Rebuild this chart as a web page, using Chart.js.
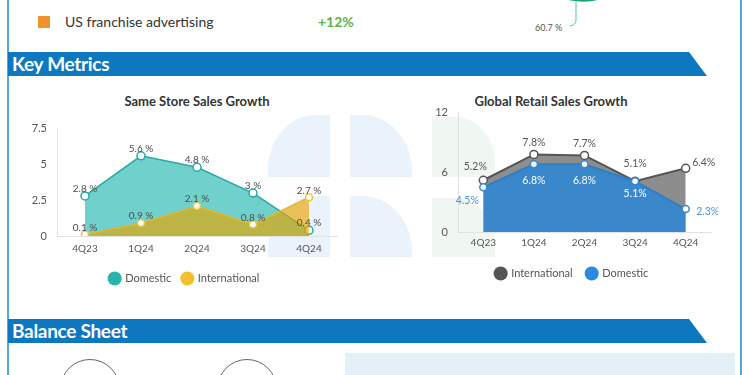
<!DOCTYPE html>
<html>
<head>
<meta charset="utf-8">
<script src="https://cdn.jsdelivr.net/npm/chart.js@4.4.0/dist/chart.umd.min.js"></script>
<style>
  html, body { margin: 0; padding: 0; }
  body { width: 750px; height: 375px; overflow: hidden; position: relative; background: #fff; font-family: Lato, sans-serif; }
  .abs { position: absolute; }
  .frame { position: absolute; top: 0; bottom: 0; width: 2px; background: #5aa6da; }
  .banner { position: absolute; left: 8px; width: 699px; height: 24px; background: #0d78c0;
    clip-path: polygon(0 0, 681px 0, 699px 100%, 0 100%); color: #fff; font-weight: 700;
    font-size: 19px; line-height: 24px; padding-left: 4px; box-sizing: border-box; letter-spacing: -0.3px; }
  .leaf { position: absolute; background: #eaf2fb; }
  .gleaf { position: absolute; background: #f0f7f2; }
  .title { position: absolute; width: 220px; text-align: center; font-weight: 700; font-size: 13px; color: #333; line-height: 16px; }
  .box { position: absolute; }
</style>
</head>
<body>
<div class="frame" style="left:7px"></div>
<div class="frame" style="left:740px"></div>

<div class="abs" style="left:38px;top:16px;width:12px;height:12px;background:#f0922e"></div>
<div class="abs" style="left:65px;top:13px;font-size:14px;color:#333;line-height:18px">US franchise advertising</div>
<div class="abs" style="left:318px;top:13px;font-size:14px;color:#5cb346;font-weight:700;line-height:18px">+12%</div>
<svg class="abs" style="left:540px;top:0" width="80" height="40">
  <path d="M28 0 L58 0 Q44 3.5 28 0 Z" fill="#1aa37c"/>
  <path d="M36 2 L36 20 Q36 25 30 26" stroke="#5cc0a0" stroke-width="1" fill="none"/>
</svg>
<div class="abs" style="left:535px;top:22px;font-size:9px;color:#555;line-height:12px">60.7 %</div>

<div class="banner" style="top:52px">Key Metrics</div>
<div class="banner" style="top:319px">Balance Sheet</div>

<!-- faint watermark logo -->
<div class="leaf" style="left:268px;top:115px;width:62px;height:62px;border-radius:48px 0 0 0 / 54px 0 0 0"></div>
<div class="leaf" style="left:350px;top:115px;width:62px;height:62px;border-radius:0 50px 0 0 / 0 56px 0 0"></div>
<div class="leaf" style="left:268px;top:196px;width:62px;height:61px;border-radius:48px 0 0 0 / 54px 0 0 0"></div>
<div class="leaf" style="left:350px;top:196px;width:62px;height:61px;border-radius:0 50px 0 0 / 0 56px 0 0"></div>
<div class="gleaf" style="left:432px;top:117px;width:63px;height:60px;border-radius:0 40px 0 0 / 0 45px 0 0"></div>
<div class="gleaf" style="left:432px;top:198px;width:63px;height:59px;border-radius:0 40px 0 0 / 0 45px 0 0"></div>

<div class="title" style="left:87px;top:93px">Same Store Sales Growth</div>
<div class="title" style="left:441px;top:93px">Global Retail Sales Growth</div>

<div class="box" style="left:20px;top:112px;width:325px;height:187px"><canvas id="sssChart"></canvas></div>
<div class="box" style="left:425px;top:96px;width:293px;height:198px"><canvas id="grsChart"></canvas></div>

<div class="abs" style="left:60px;top:359px;width:58px;height:58px;border:1px solid #666;border-radius:50%"></div>
<div class="abs" style="left:217px;top:359px;width:58px;height:58px;border:1px solid #666;border-radius:50%"></div>
<div class="abs" style="left:345px;top:353px;width:390px;height:30px;background:#e4eff8"></div>

<script>
const quarters = ['4Q23', '1Q24', '2Q24', '3Q24', '4Q24'];
const sssDomestic = [2.8, 5.6, 4.8, 3, 0.4];
const sssInternational = [0.1, 0.9, 2.1, 0.8, 2.7];
const sssTicks = [0, 2.5, 5, 7.5];
const grsInternational = [5.2, 7.8, 7.7, 5.1, 6.4];
const grsDomestic = [4.5, 6.8, 6.8, 5.1, 2.3];
const grsTicks = [0, 6, 12];

// draws the value next to each point
const pointLabels = {
  id: 'pointLabels',
  afterDatasetsDraw(chart) {
    const ctx = chart.ctx;
    chart.data.datasets.forEach((ds, i) => {
      const opt = ds.pointLabels;
      if (!opt) return;
      const meta = chart.getDatasetMeta(i);
      ctx.save();
      ctx.font = opt.font;
      ctx.textAlign = 'center';
      ctx.textBaseline = 'middle';
      meta.data.forEach((pt, j) => {
        const off = opt.offsets ? opt.offsets[j] : [0, -7];
        ctx.fillStyle = Array.isArray(opt.color) ? opt.color[j] : opt.color;
        ctx.fillText(ds.data[j] + opt.suffix, pt.x + off[0], pt.y + off[1]);
      });
      ctx.restore();
    });
  }
};

function legendLabels(colors) {
  return chart => Chart.defaults.plugins.legend.labels.generateLabels(chart)
    .sort((a, b) => a.datasetIndex - b.datasetIndex)
    .map(item => Object.assign(item, {
      fillStyle: colors[item.datasetIndex],
      strokeStyle: colors[item.datasetIndex],
      lineWidth: 0,
      pointStyle: 'circle'
    }));
}

const tickFont = { family: 'Lato', size: 10 };

new Chart(document.getElementById('sssChart'), {
  type: 'line',
  data: {
    labels: quarters,
    datasets: [{
      label: 'Domestic',
      data: sssDomestic,
      order: 2,
      borderColor: '#2aa8a3',
      borderWidth: 1.5,
      backgroundColor: 'rgba(64,192,186,0.75)',
      fill: 'origin',
      tension: 0,
      pointRadius: 4,
      pointBorderWidth: 1.5,
      pointBackgroundColor: '#fff',
      pointBorderColor: '#2aa8a3',
      pointLabels: { font: '10px Lato', color: '#4d4d4d', suffix: ' %' }
    }, {
      label: 'International',
      data: sssInternational,
      order: 1,
      borderColor: '#e3b82e',
      borderWidth: 1.5,
      backgroundColor: 'rgba(232,166,0,0.65)',
      fill: 'origin',
      tension: 0,
      pointRadius: 3.5,
      pointBorderWidth: 1.5,
      pointBackgroundColor: '#fff',
      pointBorderColor: '#eac446',
      pointLabels: { font: '10px Lato', color: '#4d4d4d', suffix: ' %' }
    }]
  },
  options: {
    responsive: true,
    maintainAspectRatio: false,
    animation: false,
    layout: { padding: { left: 12, right: 8, top: 5, bottom: 5 } },
    plugins: {
      tooltip: { enabled: false },
      legend: {
        position: 'bottom',
        labels: {
          usePointStyle: true, boxWidth: 10, boxHeight: 10, padding: 11,
          color: '#555', font: { family: 'Lato', size: 11 },
          generateLabels: legendLabels(['#2ab3ad', '#f0c030'])
        }
      }
    },
    scales: {
      x: {
        offset: true,
        grid: { display: false, drawTicks: false },
        border: { color: '#e2e2e2' },
        ticks: { color: '#555', font: tickFont, padding: 7 }
      },
      y: {
        min: sssTicks[0],
        max: sssTicks[sssTicks.length - 1],
        grid: { display: false, drawTicks: false },
        border: { color: '#e2e2e2' },
        ticks: { color: '#555', font: { family: 'Lato', size: 11 }, padding: 10 },
        afterBuildTicks: s => { s.ticks = sssTicks.map(v => ({ value: v })); },
        afterFit: s => { s.width = 25; }
      }
    }
  },
  plugins: [pointLabels]
});

new Chart(document.getElementById('grsChart'), {
  type: 'line',
  data: {
    labels: quarters,
    datasets: [{
      label: 'International',
      data: grsInternational,
      order: 2,
      borderColor: '#555',
      borderWidth: 2,
      backgroundColor: '#8d8d8d',
      fill: 'origin',
      tension: 0,
      pointRadius: 4,
      pointBorderWidth: 1.5,
      pointBackgroundColor: '#fff',
      pointBorderColor: '#555',
      pointLabels: {
        font: '10.5px Lato', suffix: '%', color: '#555',
        offsets: [[-8, -14], [0, -12], [0, -12], [0, -18], [18, -6]]
      }
    }, {
      label: 'Domestic',
      data: grsDomestic,
      order: 1,
      borderColor: '#2f7fc4',
      borderWidth: 2,
      backgroundColor: '#3b87cc',
      fill: 'origin',
      tension: 0,
      pointRadius: 3.5,
      pointBorderWidth: 1.5,
      pointBackgroundColor: '#fff',
      pointBorderColor: '#3b87cc',
      pointLabels: {
        font: '10.5px Lato', suffix: '%',
        color: ['#4b95d6', '#fff', '#fff', '#fff', '#4b95d6'],
        offsets: [[-16, 13], [0, 16], [0, 16], [0, 12], [22, 2]]
      }
    }]
  },
  options: {
    responsive: true,
    maintainAspectRatio: false,
    animation: false,
    layout: { padding: { left: 8, right: 7, top: 5, bottom: 5 } },
    plugins: {
      tooltip: { enabled: false },
      legend: {
        position: 'bottom',
        labels: {
          usePointStyle: true, boxWidth: 10, boxHeight: 10, padding: 14,
          color: '#555', font: { family: 'Lato', size: 11 },
          generateLabels: legendLabels(['#555', '#2a8ae0'])
        }
      }
    },
    scales: {
      x: {
        offset: true,
        grid: { display: false, drawTicks: false },
        border: { color: '#e2e2e2' },
        ticks: { color: '#555', font: tickFont, padding: 5 }
      },
      y: {
        min: grsTicks[0],
        max: grsTicks[grsTicks.length - 1],
        grid: { display: false, drawTicks: false },
        border: { color: '#e2e2e2' },
        ticks: { color: '#555', font: { family: 'Lato', size: 11 }, padding: 10 },
        afterBuildTicks: s => { s.ticks = grsTicks.map(v => ({ value: v })); },
        afterFit: s => { s.width = 25; }
      }
    }
  },
  plugins: [pointLabels]
});
</script>
</body>
</html>
